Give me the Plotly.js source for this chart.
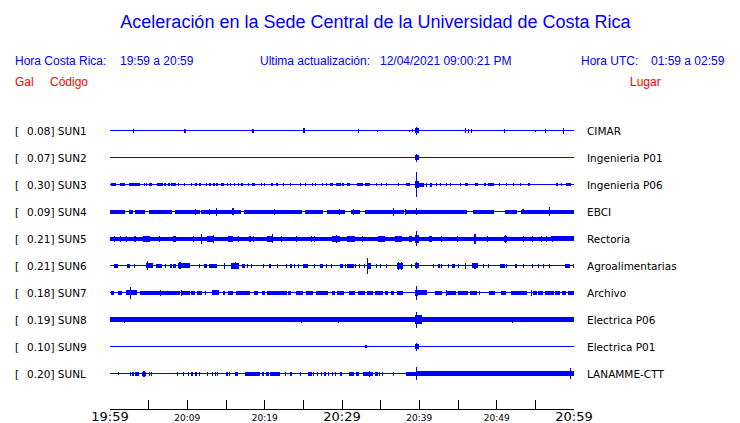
<!DOCTYPE html>
<html>
<head>
<meta charset="utf-8">
<script src="https://cdn.plot.ly/plotly-3.0.1.min.js"></script>
<style>html,body{margin:0;padding:0;background:#fff;}#chart{width:740px;height:423px;}</style>
</head>
<body>
<div id="chart"></div>
<script>
// ---- data ----
const stations = ['SUN1','SUN2','SUN3','SUN4','SUN5','SUN6','SUN7','SUN8','SUN9','SUNL'];
const galValues = ['0.08','0.07','0.30','0.09','0.21','0.21','0.18','0.19','0.10','0.20'];
const places = ['CIMAR','Ingenieria P01','Ingenieria P06','EBCI','Rectoria','Agroalimentarias','Archivo','Electrica P06','Electrica P01','LANAMME-CTT'];
const tickVals = [0,5,10,15,20,25,30,35,40,45,50,55,60];          // minutes after 19:59
const tickLabels = ['19:59','','20:09','','20:19','','20:29','','20:39','','20:49','','20:59'];
const majorLabels = ['19:59','20:29','20:59'];

// wave envelopes: [start minute, end minute, half amplitude]
const sun1 = [[3.0,3.0,2],[9.7,9.7,2],[18.4,18.6,2],[24.9,25.2,2.5],[32.1,32.1,2],[34.6,34.6,1],[38.7,38.7,1],[39.1,39.1,1.2],
  [39.45,39.9,2.5],[39.6,39.75,4],[45.95,45.95,2.5],[46.4,46.4,2],[46.7,46.7,2],[51.0,51.0,2],[55.0,55.0,1],[56.3,56.3,2],[58.7,58.7,3]];
const sun2 = [[39.45,39.9,2.5],[39.6,39.75,4]];
const sun3 = [[0.1,0.8,1.5],[1.3,2.0,1.5],[2.5,3.9,1.5],[4.4,4.5,1.5],[4.7,4.8,1.5],[5.0,5.4,1.5],[6.1,6.8,1.5],[7.0,7.3,1.5],[7.5,7.7,1.5],
  [7.9,8.5,1.5],[8.9,8.9,1.5],[9.6,9.6,1.5],[10.5,10.5,1.5],[11.0,11.2,1.5],[11.5,11.8,1.5],[12.4,12.5,1.5],[12.8,13.0,1.5],[13.4,13.5,1.5],
  [13.7,14.0,1.5],[14.4,14.8,1.5],[15.1,15.2,1.5],[15.5,15.7,1.5],[16.0,16.2,1.5],[16.6,16.7,1.5],[17.0,17.2,1.5],[17.8,18.0,1.5],[18.3,18.7,1.5],
  [19.5,19.6,1.5],[19.9,20.1,1.5],[20.8,21.1,1.5],[21.5,21.7,1.5],[22.4,22.4,1.5],[23.3,23.3,1.5],[24.6,24.6,1.5],[25.3,25.3,1.5],[26.1,26.2,1.5],
  [26.5,26.6,1.5],[27.4,27.6,1.5],[27.9,28.1,1.5],[28.4,28.8,1.5],[29.2,29.9,1.5],[30.0,30.2,1.5],[30.6,31.0,1.5],[31.9,32.7,1.5],[33.0,33.6,1.5],
  [34.5,34.5,1.5],[35.1,35.1,1.5],[35.8,35.8,1.5],[37.3,37.3,1.5],[38.3,38.8,1.5],[39.45,40.0,3.5],[39.65,39.65,12.5],[40.0,40.6,2],[40.8,41.0,2],
  [41.4,41.6,2],[42.2,42.2,1.5],[42.7,42.7,1.5],[43.5,43.5,1.5],[44.0,44.0,1.5],[45.3,45.3,1.5],[45.9,46.3,1.5],[47.2,47.6,1.5],[48.3,48.6,1.5],
  [48.9,49.7,1.5],[50.4,50.4,1.5],[51.3,51.3,1.5],[52.2,52.2,1.5],[53.0,53.2,1.5],[54.1,54.1,1.5],[54.3,54.3,1.5],[57.8,57.8,1.5],[58.4,58.4,1.5],[59.0,59.6,1.5]];
const sun4 = [[0,1.9,2],[2.4,3.0,2],[3.2,4.5,2],[5.0,8.0,2],[8.4,11.6,2],[11.8,17.0,2],[17.3,24.8,2],[25.2,27.6,2],[28.0,30.4,2],[31.2,32.3,2],
  [33.0,38.0,2],[38.3,46.1,2],[47.0,49.6,2],[51.1,52.6,2],[53.2,60,2],
  [11.1,11.1,3],[12.9,12.9,3],[13.8,13.8,4],[15.9,15.9,3.5],[21.3,21.3,3],[29.7,29.7,3],[31.5,31.5,3],[36.6,36.6,4],[38.2,38.2,3],[39.65,39.65,3.5],[53.4,53.4,2.5],[56.8,56.8,4.5]];
const sun5 = [[0,60,2],[57,60,2.5],[0.56,0.56,3],[1.38,1.38,3],[2.15,2.15,3],[3.23,3.23,3],[4.3,5.2,3],[6.38,6.38,3],[8.2,8.5,3],[10.77,10.77,3],
  [11.85,11.85,5],[12.5,13.4,3],[13.36,13.36,4],[15.2,15.9,3],[16.6,16.6,3],[18.1,18.1,3],[18.5,18.5,3],[20.3,21.1,3],[21.0,21.0,4.5],[22.2,22.2,3],
  [24.1,24.1,3],[26.1,26.1,3],[26.5,26.5,3],[28.7,29.7,3],[29.3,29.3,4],[30.6,31.7,3],[32.6,32.6,3],[34.7,35.6,3],[36.9,37.7,3],[38.6,39.0,3],
  [39.4,40.0,4],[39.65,39.65,7.5],[41.3,41.7,3],[42.9,42.9,3],[44.9,44.9,3],[47.2,47.2,5],[48.8,48.8,3],[50.9,51.3,3],[51.1,51.1,4],[53.5,53.5,3],
  [54.6,54.6,3],[55.8,55.8,3],[56.5,56.5,3],[57.2,57.2,3]];
const sun6 = [[0.56,1.07,2],[2.15,2.58,2],[3.14,3.14,2],[4.7,5.6,2.5],[4.87,4.87,4.5],[5.95,6.68,2],[7.1,7.3,2],[7.75,7.97,2],[8.2,8.5,2],
  [8.8,10.3,2.5],[9.05,9.05,3.5],[11.55,11.55,2],[12.2,12.5,2],[12.8,13.4,2],[13.5,13.9,2],[14.8,14.8,3],[15.6,16.7,3],[16.2,16.2,3.5],[17.1,17.5,2],
  [17.8,17.8,2],[18.3,18.3,2],[19.8,19.95,2],[20.5,20.8,2],[21.7,21.7,2],[22.8,22.8,2],[23.3,23.5,2],[23.8,23.8,2],[24.4,24.4,2],[25.0,25.6,2],
  [26.5,26.5,2],[27.2,27.6,2],[28.0,28.0,2],[28.7,28.7,2],[29.7,30.1,2],[30.4,30.4,2],[30.7,31.5,2],[31.7,31.7,2],[32.3,32.3,2],[32.8,33.0,2],
  [33.27,33.27,8],[33.4,33.8,3],[34.5,34.5,2],[35.0,35.0,2],[35.7,35.7,2],[37.1,37.9,3],[37.3,37.3,4],[37.7,37.7,4],[39.0,39.0,2],[39.4,39.9,2.5],
  [39.65,39.65,3.5],[41.8,41.8,2],[42.4,42.7,2],[42.9,42.9,2],[43.75,43.75,2],[44.2,44.6,2],[45.1,45.1,2],[46.0,46.0,3],[46.8,47.6,2.5],[47.2,47.2,3],
  [48.3,48.3,2],[49.0,49.0,2],[50.4,51.1,2],[51.3,51.3,2],[52.5,52.5,2],[53.5,53.5,2],[54.6,54.6,2],[55.4,55.4,2],[56.0,56.0,2],[56.8,56.8,2],
  [58.9,59.5,2],[59.9,59.9,2]];
const sun7 = [[0.13,0.56,2],[1.07,1.5,2],[2.07,3.44,2.5],[2.63,2.63,6],[3.9,9.05,2],[6.55,6.55,3],[9.2,9.2,3],[9.3,10.3,2],[10.5,11.0,2],[11.2,11.85,2],
  [12.3,12.3,2],[13.2,14.1,2.5],[14.65,14.87,2],[15.3,15.9,2],[16.25,18.1,2],[18.65,19.1,2],[19.6,20.0,2],[20.35,22.85,2],[22.97,23.4,2],[24.1,25.0,2],
  [25.35,26.3,2],[26.7,28.2,2],[28.66,29.1,2],[29.3,30.3,2],[30.95,31.7,2],[32.1,33.0,2],[33.2,34.0,2],[34.3,35.3,2],[35.5,36.0,2],[36.4,36.7,2],
  [37.1,37.9,2],[39.5,39.8,3],[39.65,39.65,7],[39.7,41.0,2.5],[42.0,42.9,2],[43.45,44.74,2],[43.5,43.5,3],[45.0,46.3,2],[46.55,47.4,2],[47.8,47.8,2],
  [49.0,49.8,2],[50.6,51.2,2],[51.85,53.9,2],[54.5,54.5,3],[54.7,55.2,2],[55.4,56.0,2],[56.2,57.4,2],[57.6,58.2,2],[58.4,59.0,2],[59.2,60,2]];
const sun8 = [[0,60,2.2],[1.85,1.85,3],[24.8,24.8,3],[29.6,29.6,3],[30.95,30.95,2.8],[33.5,33.5,2.8],[39.4,40.3,4.5],[39.65,39.65,8],[52.0,52.0,3],[55.9,55.9,2.8]];
const sun9 = [[33.1,33.1,1.5],[39.45,39.9,2.5],[39.6,39.75,4]];
const sunl = [[1.07,1.07,1.5],[2.6,2.6,2],[2.9,3.1,2],[3.2,3.8,2],[4.2,4.7,2],[4.4,4.4,3],[5.1,5.1,2],[5.4,5.4,2],[8.65,8.8,2],[9.5,9.5,2],[10.1,10.1,2],
  [10.6,10.6,2],[11.0,11.0,2],[11.2,11.2,2],[11.55,11.55,2],[12.6,12.6,2],[13.2,13.2,2],[13.6,13.6,2],[13.9,13.9,2],[15.0,15.2,2],[15.5,15.5,2],
  [16.2,16.6,2],[17.4,19.4,2],[19.7,19.95,2],[20.2,20.5,2],[20.7,21.7,2],[21.85,21.85,2],[22.75,22.75,2],[23.4,23.4,2],[24.6,24.6,2],[25.6,26.1,2],
  [26.3,26.3,2],[26.8,26.8,2],[27.4,27.4,2],[27.8,27.8,2],[28.3,28.3,2],[28.75,28.9,2],[29.2,29.2,2],[29.7,30.0,2],[30.95,31.5,2],[31.8,32.2,2],
  [32.67,34.05,2],[33.5,33.5,3],[34.4,34.4,2],[34.6,34.6,2],[34.8,34.8,2],[35.2,35.2,2],[36.6,36.6,2],[38.3,39.6,2],[39.65,39.65,6.7],[39.6,60,2.2],[59.57,59.57,5.3]];
const waves = [sun1,sun2,sun3,sun4,sun5,sun6,sun7,sun8,sun9,sunl];

// ---- drawing ----
const BLUE = '#0000ff';
const ROW0 = 20.5, ROWSTEP = 27;   // row centres on the y axis (axis units = px)
const MINW = 0.14;                 // thinnest spike width in minutes
const PAD = 2;                     // annotation inner padding in px
const traces = [];
const annotations = [];
const pxToPaper = px => (px - PAD - 110) / 464;
waves.forEach((list, i) => {
  const c = ROW0 + ROWSTEP * i;
  traces.push({type:'scatter', mode:'lines', x:[0,60], y:[c,c], line:{color:BLUE, width:1}, hoverinfo:'skip'});
  const x = [], w = [], base = [], h = [];
  list.forEach(([t0, t1, a]) => {
    const wd = Math.max(t1 - t0, MINW);
    x.push((t0 + t1) / 2); w.push(wd); base.push(c - a); h.push(2 * a);
  });
  traces.push({type:'bar', x:x, y:h, base:base, width:w, marker:{color:BLUE, line:{width:0}}, hoverinfo:'skip'});
  annotations.push({xref:'paper', yref:'y', x:pxToPaper(15), y:c, xanchor:'left', yanchor:'middle', showarrow:false,
    text:'[', font:{family:'DejaVu Sans', size:10.5, color:'#000'}});
  annotations.push({xref:'paper', yref:'y', x:pxToPaper(27), y:c, xanchor:'left', yanchor:'middle', showarrow:false,
    text:galValues[i] + '] ' + stations[i], font:{family:'DejaVu Sans', size:10.5, color:'#000'}});
  annotations.push({xref:'paper', yref:'y', x:pxToPaper(587), y:c, xanchor:'left', yanchor:'middle', showarrow:false,
    text:places[i], font:{family:'DejaVu Sans', size:10.5, color:'#000'}});
});

const pyToPaper = py => (409 - py) / 299;
const hdr = (px, py, text, color) => ({xref:'paper', yref:'paper', x:pxToPaper(px), y:pyToPaper(py), xanchor:'left', yanchor:'middle',
  showarrow:false, text:text, font:{family:'Liberation Sans', size:12, color:color}});
annotations.push(hdr(15, 61, 'Hora Costa Rica:', BLUE));
annotations.push(hdr(120, 61, '19:59 a 20:59', BLUE));
annotations.push(hdr(260, 61, 'Ultima actualización:', BLUE));
annotations.push(hdr(380, 61, '12/04/2021 09:00:21 PM', BLUE));
annotations.push(hdr(581, 61, 'Hora UTC:', BLUE));
annotations.push(hdr(651, 61, '01:59 a 02:59', BLUE));
annotations.push(hdr(15, 82, 'Gal', '#ff0000'));
annotations.push(hdr(50, 82, 'Código', '#ff0000'));
annotations.push(hdr(630, 82, 'Lugar', '#ff0000'));

const tickText = tickLabels.map(s => majorLabels.includes(s) ? '<span style="font-size:13px">' + s + '</span>' : s);

const layout = {
  width:740, height:423,
  margin:{l:110, r:166, t:110, b:14, pad:0},
  paper_bgcolor:'#fff', plot_bgcolor:'#fff',
  showlegend:false, barmode:'overlay', bargap:0,
  title:{text:'Aceleración en la Sede Central de la Universidad de Costa Rica', x:375.5/740, xref:'container', xanchor:'center',
    y:1 - 22/423, yref:'container', yanchor:'middle', font:{family:'Liberation Sans', size:18, color:BLUE}},
  xaxis:{range:[0,60], tickmode:'array', tickvals:tickVals, ticktext:tickText, ticks:'inside', ticklen:9, tickwidth:1, tickcolor:'#000',
    showline:true, linecolor:'#000', linewidth:1, showgrid:false, zeroline:false, fixedrange:true,
    tickfont:{family:'DejaVu Sans', size:9, color:'#000'}, automargin:false},
  yaxis:{range:[299,0], visible:false, showgrid:false, zeroline:false, fixedrange:true},
  annotations:annotations
};
Plotly.newPlot('chart', traces, layout, {staticPlot:true, displayModeBar:false});
</script>
</body>
</html>
